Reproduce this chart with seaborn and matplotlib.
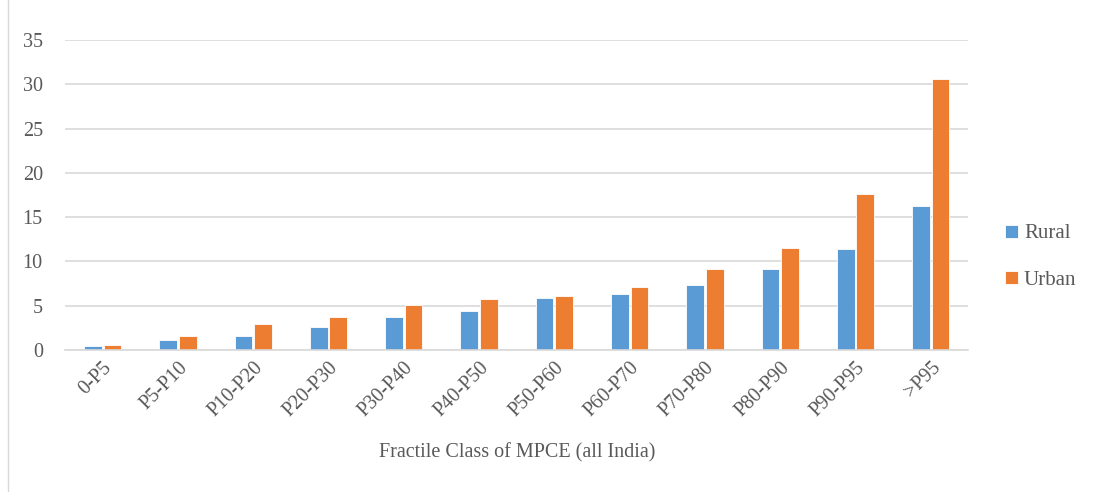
import numpy as np
import pandas as pd
import matplotlib.pyplot as plt
import seaborn as sns
from matplotlib.patches import Rectangle

sns.set_style('white')
plt.rcParams['font.family'] = ['Liberation Serif', 'DejaVu Serif']

# data
classes = ['0-P5', 'P5-P10', 'P10-P20', 'P20-P30', 'P30-P40', 'P40-P50',
           'P50-P60', 'P60-P70', 'P70-P80', 'P80-P90', 'P90-P95', '>P95']
rural = [0.45, 1.13, 1.6, 2.65, 3.77, 4.4, 5.9, 6.3, 7.35, 9.15, 11.45, 16.25]
urban = [0.6, 1.62, 2.94, 3.7, 5.1, 5.8, 6.1, 7.1, 9.15, 11.52, 17.6, 30.6]
series = ['Rural', 'Urban']
colors = ['#5B9BD5', '#ED7D31']

df = pd.DataFrame({
    'cls': classes * 2,
    'value': rural + urban,
    'area': ['Rural'] * len(classes) + ['Urban'] * len(classes),
})

fig = plt.figure(figsize=(10.94, 4.92), dpi=100)
ax = fig.add_axes([0.0594, 0.2886, 0.8258, 0.6301])

sns.barplot(data=df, x='cls', y='value', hue='area', hue_order=series,
            palette=colors, width=0.52, gap=0.1, saturation=1,
            edgecolor='white', linewidth=0.6, ax=ax)

ax.set_ylim(0, 35)
ax.set_yticks(np.arange(0, 36, 5))
ax.set_xlim(-0.5, len(classes) - 0.5)
ax.yaxis.grid(True, color='#D9D9D9', linewidth=1.2)
ax.set_axisbelow(True)
for s in ['top', 'right', 'left']:
    ax.spines[s].set_visible(False)
ax.spines['bottom'].set_color('#D9D9D9')
ax.spines['bottom'].set_linewidth(1.2)
ax.tick_params(axis='both', length=0, labelsize=14.5, colors='#595959')
ax.tick_params(axis='y', pad=16)
ax.tick_params(axis='x', pad=6)
plt.setp(ax.get_xticklabels(), rotation=45, ha='right', rotation_mode='anchor')
ax.set_ylabel('')
ax.set_xlabel('Fractile Class of MPCE (all India)', fontsize=14.5, color='#595959', labelpad=16)

handles, labels = ax.get_legend_handles_labels()
ax.legend(handles, labels, loc='center left', bbox_to_anchor=(1.02, 0.30),
          frameon=False, fontsize=15, handlelength=0.6, handleheight=0.6,
          handletextpad=0.3, labelspacing=1.3, labelcolor='#595959')

# light chart-area border
fig.patches.append(Rectangle((0.007, -0.01), 1.0, 1.02, transform=fig.transFigure,
                             fill=False, edgecolor='#D9D9D9', linewidth=1.0))

plt.savefig('out.png', dpi=100)
plt.close()
